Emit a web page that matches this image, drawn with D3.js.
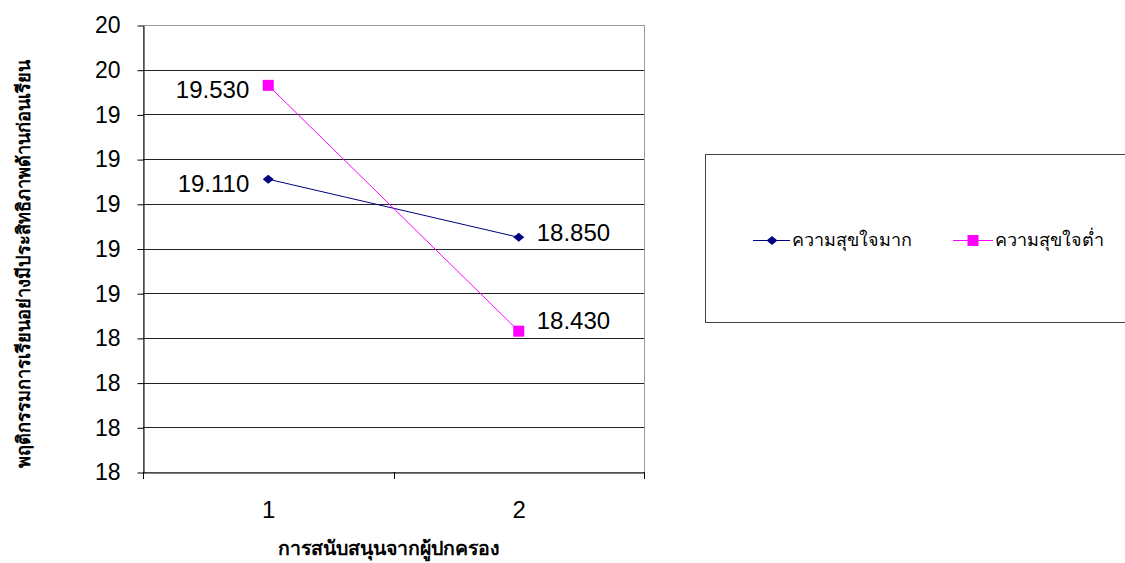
<!DOCTYPE html>
<html>
<head>
<meta charset="utf-8">
<script src="https://cdn.jsdelivr.net/npm/d3@7/dist/d3.min.js"></script>
<style>
  html, body { margin: 0; padding: 0; background: #fff; }
  svg { display: block; }
  text { font-family: "Liberation Sans", Arial, sans-serif; }
</style>
</head>
<body>
<svg id="chart" width="1125" height="563"></svg>
<script>
// ---- data ----
const categories = ["1", "2"];
const seriesNames = ["ความสุขใจมาก", "ความสุขใจต่ำ"];
const highValues = [19.11, 18.85];
const lowValues = [19.53, 18.43];
const yTickValues = [17.8, 18.0, 18.2, 18.4, 18.6, 18.8, 19.0, 19.2, 19.4, 19.6, 19.8];
const xTitle = "การสนับสนุนจากผู้ปกครอง";
const yTitle = "พฤติกรรมการเรียนอย่างมีประสิทธิภาพด้านก่อนเรียน";

(function () {
const series = [
  { name: seriesNames[0], values: highValues, color: "#000080", marker: "diamond", labelSide: ["left", "right"], labelDy: [4, -5] },
  { name: seriesNames[1], values: lowValues, color: "#FF00FF", marker: "square", labelSide: ["left", "right"], labelDy: [4, -11] }
];

const svg = d3.select("#chart");
const pLeft = 143, pRight = 644, pTop = 25, pBottom = 472;
const numFont = "Liberation Sans, Arial, sans-serif";

const x = d3.scaleBand().domain(categories).range([pLeft, pRight]);
const y = d3.scaleLinear().domain([17.8, 19.8]).range([pBottom, pTop]);

// plot border (gray)
svg.append("rect").attr("x", pLeft + 0.5).attr("y", pTop + 0.5).attr("width", pRight - pLeft).attr("height", pBottom - pTop)
  .attr("fill", "none").attr("stroke", "#9a9a9a").attr("stroke-width", 1);

// gridlines
svg.append("g").selectAll("line").data(yTickValues.slice(1, -1)).join("line")
  .attr("x1", pLeft).attr("x2", pRight)
  .attr("y1", d => Math.round(y(d)) + 0.5).attr("y2", d => Math.round(y(d)) + 0.5)
  .attr("stroke", "#222").attr("stroke-width", 1);

// y axis
const yAxis = svg.append("g").attr("transform", `translate(${pLeft + 0.5},0.5)`)
  .call(d3.axisLeft(y).tickValues(yTickValues).tickFormat(d3.format(".0f")).tickSizeInner(6).tickSizeOuter(0).tickPadding(17));
yAxis.select(".domain").attr("stroke", "#000");
yAxis.selectAll(".tick line").attr("stroke", "#000");
yAxis.selectAll(".tick text").attr("font-size", 23).attr("fill", "#000").attr("font-family", numFont);

// x axis
const xAxis = svg.append("g").attr("transform", `translate(0.5,${pBottom + 0.5})`)
  .call(d3.axisBottom(x).tickSizeInner(0).tickSizeOuter(0));
xAxis.select(".domain").attr("stroke", "#000");
xAxis.selectAll(".tick text").attr("font-size", 24).attr("fill", "#000").attr("font-family", numFont)
  .attr("y", 45).attr("dy", null);
// x category boundary ticks
const bounds = [pLeft, pLeft + x.bandwidth(), pRight];
svg.append("g").selectAll("line").data(bounds).join("line")
  .attr("x1", d => Math.round(d) + 0.5).attr("x2", d => Math.round(d) + 0.5)
  .attr("y1", pBottom).attr("y2", pBottom + 7).attr("stroke", "#000");

// axis titles
svg.append("text").attr("x", 389).attr("y", 555)
  .attr("text-anchor", "middle").attr("font-size", 19.5).attr("font-weight", "bold").text(xTitle);
svg.append("text").attr("transform", "translate(30,264) rotate(-90)")
  .attr("text-anchor", "middle").attr("font-size", 18.2).attr("font-weight", "bold").text(yTitle);

const cx = c => x(c) + x.bandwidth() / 2;

function drawMarker(g, type, color, px, py) {
  if (type === "diamond") {
    g.append("path").attr("d", `M${px},${py - 4.5}L${px + 5.5},${py}L${px},${py + 4.5}L${px - 5.5},${py}Z`).attr("fill", color);
  } else {
    g.append("rect").attr("x", px - 5.5).attr("y", py - 5.5).attr("width", 11).attr("height", 11).attr("fill", color);
  }
}

series.forEach(s => {
  const g = svg.append("g");
  const line = d3.line().x((d, i) => cx(categories[i])).y(d => y(d));
  g.append("path").datum(s.values).attr("d", line).attr("fill", "none").attr("stroke", s.color).attr("stroke-width", 1);
  s.values.forEach((v, i) => {
    const px = cx(categories[i]), py = y(v);
    drawMarker(g, s.marker, s.color, px, py);
    const side = s.labelSide[i];
    g.append("text")
      .attr("x", side === "left" ? px - 19 : px + 18)
      .attr("y", py + s.labelDy[i])
      .attr("dy", "0.35em")
      .attr("text-anchor", side === "left" ? "end" : "start")
      .attr("font-size", 24).attr("fill", "#000").attr("font-family", numFont)
      .text(d3.format(".3f")(v));
  });
});

// legend
svg.append("rect").attr("x", 705.5).attr("y", 154.5).attr("width", 430).attr("height", 168)
  .attr("fill", "#fff").attr("stroke", "#444").attr("stroke-width", 1);
const legendX = [753, 953];
const legendLineLen = [37, 40];
series.forEach((s, i) => {
  const g = svg.append("g");
  const lx = legendX[i], ly = 240, len = legendLineLen[i];
  g.append("line").attr("x1", lx).attr("x2", lx + len).attr("y1", ly + 0.5).attr("y2", ly + 0.5).attr("stroke", s.color);
  drawMarker(g, s.marker, s.color, lx + Math.round(len / 2), ly + 0.5);
  g.append("text").attr("x", lx + len + 2).attr("y", ly).attr("dy", "0.35em")
    .attr("font-size", 18).attr("fill", "#000").text(s.name);
});
})();
</script>
</body>
</html>
